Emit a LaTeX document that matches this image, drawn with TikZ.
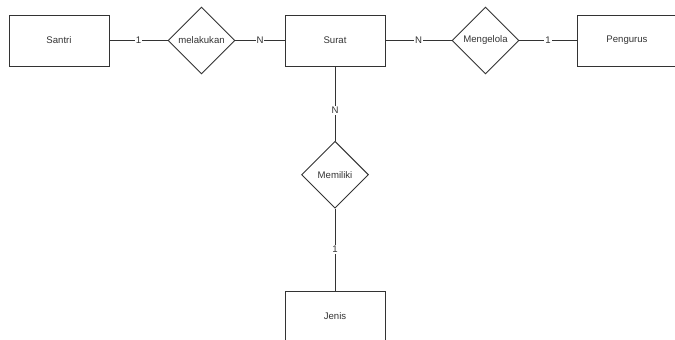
\documentclass[tikz,border=0pt]{standalone}
\usepackage{fontspec}
\setmainfont{Liberation Sans}
\usepackage{tikz}
\usetikzlibrary{positioning,shapes.geometric}
\definecolor{erline}{HTML}{333333}

\begin{document}
\begin{tikzpicture}[
    x=1pt, y=-1pt,
    every node/.style={font=\fontsize{9.6}{11}\selectfont, text=erline},
    entity/.style={draw=erline, line width=0.9pt, minimum width=100pt, minimum height=51pt},
    relation/.style={draw=erline, line width=0.9pt, diamond, aspect=1, minimum width=67pt, minimum height=67pt, inner sep=0pt},
    card/.style={fill=white, inner sep=1pt},
    link/.style={draw=erline, line width=0.9pt}
]
\useasboundingbox (0,0) rectangle (675,340);

% Entities
\node[entity] (santri) at (59,40.5) {Santri};
\node[entity] (surat) at (335,40.5) {Surat};
\node[entity, minimum width=110pt, text width=100pt, align=center] (pengurus) at (632,40.5) {Pengurus\hspace*{10pt}};
\node[entity] (jenis) at (335,316.5) {Jenis};

% Relations
\node[relation] (melakukan) at (201.5,40.5) {melakukan};
\node[relation] (mengelola) at (485.5,40.5) {Mengelola};
\node[relation] (memiliki) at (335,174.7) {Memiliki};

% Lines with cardinality
\draw[link] (santri.east) -- node[card] {1} (melakukan.west);
\draw[link] (melakukan.east) -- node[card] {N} (surat.west);
\draw[link] (surat.east) -- node[card] {N} (mengelola.west);
\draw[link] (mengelola.east) -- node[card] {1} (pengurus.west);
\draw[link] (surat.south) -- node[card, pos=0.59] {N} (memiliki.north);
\draw[link] (memiliki.south) -- node[card] {1} (jenis.north);

\end{tikzpicture}
\end{document}
